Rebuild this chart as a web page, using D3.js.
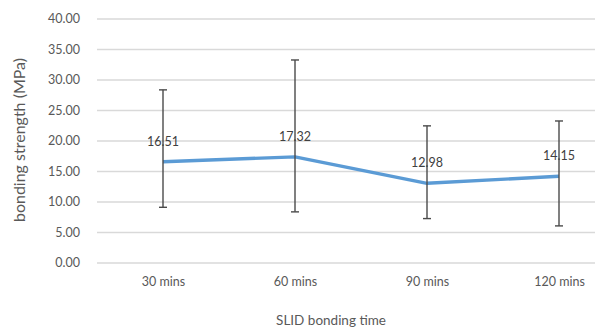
<!DOCTYPE html>
<html><head><meta charset="utf-8">
<script src="https://cdn.jsdelivr.net/npm/d3@7"></script>
<style>body{margin:0;background:#fff}svg{display:block}text{font-family:Lato,"Open Sans",sans-serif}</style>
</head><body><svg id="c" width="595" height="327"></svg>
<script>
const categories = ["30 mins","60 mins","90 mins","120 mins"];
const values = [16.51, 17.32, 12.98, 14.15];
const errUpper = [28.3, 33.2, 22.4, 23.2];
const errLower = [9.05, 8.3, 7.2, 6.0];
const yTicks = [0,5,10,15,20,25,30,35,40];

const svg = d3.select("#c");
const mLeft = 97, mRight = 625, mTop = 18.5, mBottom = 262.5;
const x = d3.scalePoint().domain(categories).range([mLeft, mRight]).padding(0.5);
const y = d3.scaleLinear().domain([0,40]).range([mBottom, mTop]);

// gridlines
const yAxis = d3.axisLeft(y).tickValues(yTicks).tickSize(-(595-mLeft)).tickFormat(d3.format(".2f")).tickPadding(17);
const gy = svg.append("g").attr("transform",`translate(${mLeft},0)`).call(yAxis);
gy.select(".domain").remove();
gy.selectAll(".tick line").attr("stroke","#d9d9d9").attr("stroke-width",1.3);
gy.selectAll(".tick text").attr("fill","#595959").style("font-size","12.5px");

const xAxis = d3.axisBottom(x).tickSize(0).tickPadding(15);
const gx = svg.append("g").attr("transform",`translate(0,${mBottom})`).call(xAxis);
gx.select(".domain").remove();
gx.selectAll(".tick text").attr("fill","#595959").style("font-size","12.5px");

// line
svg.append("path").datum(values)
  .attr("fill","none").attr("stroke","#5b9bd5").attr("stroke-width",3.4).attr("stroke-linejoin","round")
  .attr("d", d3.line().x((d,i)=>x(categories[i])).y(d=>y(d)));

// error bars
const eb = svg.append("g").attr("stroke","#4a4a4a").attr("stroke-width",1.4);
categories.forEach((c,i)=>{
  const cx = x(c);
  eb.append("line").attr("x1",cx).attr("x2",cx).attr("y1",y(errUpper[i])).attr("y2",y(errLower[i]));
  eb.append("line").attr("x1",cx-4).attr("x2",cx+4).attr("y1",y(errUpper[i])).attr("y2",y(errUpper[i]));
  eb.append("line").attr("x1",cx-4).attr("x2",cx+4).attr("y1",y(errLower[i])).attr("y2",y(errLower[i]));
});

// data labels
svg.append("g").selectAll("text").data(values).join("text")
  .attr("x",(d,i)=>x(categories[i])).attr("y",d=>y(d)-16)
  .attr("text-anchor","middle").attr("fill","#404040").style("font-size","12.5px")
  .text(d=>d.toFixed(2));

// axis titles
svg.append("text").attr("x",331).attr("y",325).attr("text-anchor","middle")
  .attr("fill","#595959").style("font-size","13.5px").text("SLID bonding time");
svg.append("text").attr("transform","translate(25,140) rotate(-90)").attr("text-anchor","middle")
  .attr("fill","#595959").style("font-size","16px").text("bonding strength (MPa)");
</script></body></html>
